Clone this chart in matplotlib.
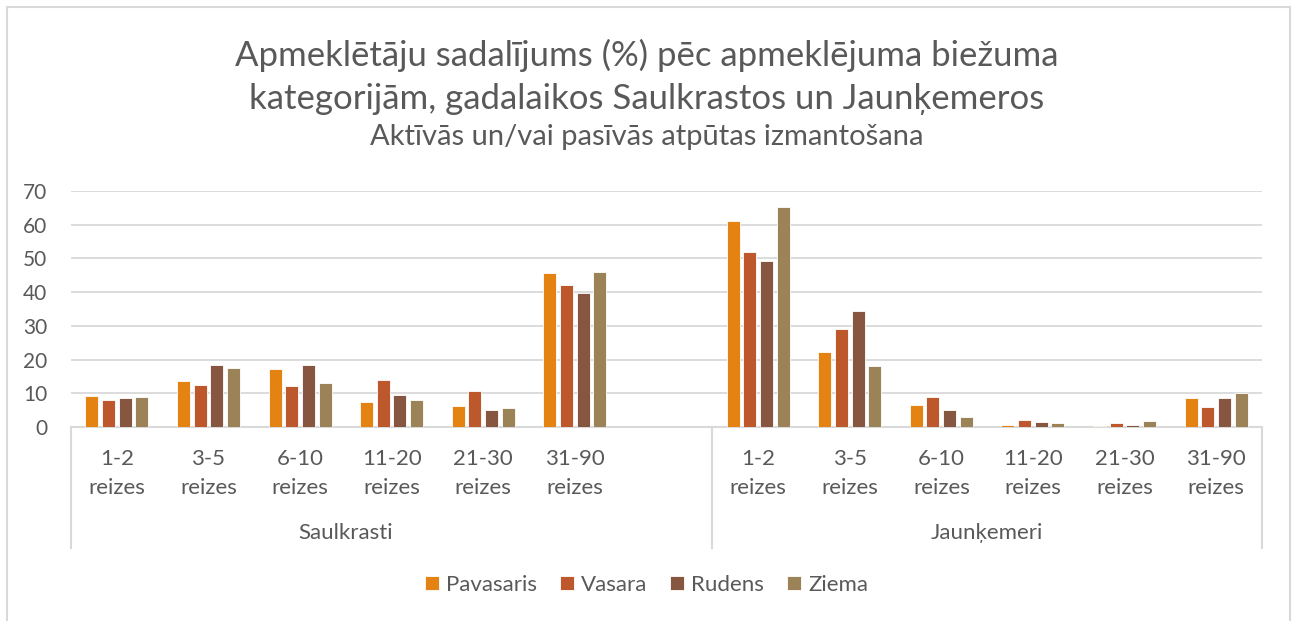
import numpy as np
import matplotlib.pyplot as plt
from matplotlib.patches import Rectangle
import matplotlib.transforms as mtransforms

plt.rcParams['font.family'] = ['Lato', 'DejaVu Sans']

categories = ["1-2\nreizes", "3-5\nreizes", "6-10\nreizes", "11-20\nreizes", "21-30\nreizes", "31-90\nreizes"]
groups = ["Saulkrasti", "Jaunķemeri"]
seasons = ["Pavasaris", "Vasara", "Rudens", "Ziema"]
colors = ["#E48312", "#BD582C", "#865640", "#9B8357"]

# Saulkrasti, per season, per category
saulkrasti = [
    [9.3, 13.6, 17.1, 7.3, 6.1, 45.7],
    [7.9, 12.6, 12.2, 13.9, 10.6, 42.1],
    [8.5, 18.3, 18.3, 9.4, 4.9, 39.8],
    [9.0, 17.4, 13.1, 8.1, 5.7, 46.0],
]
# Jaunkemeri
jaunkemeri = [
    [61.0, 22.2, 6.4, 0.7, 0.4, 8.5],
    [52.0, 29.2, 9.0, 2.0, 1.1, 5.9],
    [49.3, 34.4, 5.0, 1.4, 0.5, 8.7],
    [65.4, 18.1, 3.1, 1.1, 1.7, 10.2],
]

txt = "#595959"
grid = "#D9D9D9"

fig = plt.figure(figsize=(12.93, 6.21), dpi=100)
ax = fig.add_axes([0.0549, 0.3124, 0.9211, 0.38])

# Saulkrasti has one empty slot after its categories
n = len(categories)
xs = np.concatenate([np.arange(n), np.arange(n) + n + 1])
bw = 0.142
step = 0.182
for i, s in enumerate(seasons):
    vals = saulkrasti[i] + jaunkemeri[i]
    ax.bar(xs + (i - 1.5) * step, vals, width=bw, color=colors[i],
           edgecolor="white", linewidth=0.6, label=s, zorder=3)

ax.set_xlim(-0.5, 2 * n + 0.5)
ax.set_ylim(0, 70)
ax.set_yticks(range(0, 71, 10))
ax.yaxis.grid(True, color=grid, linewidth=1.3, zorder=0)
for sp in ax.spines.values():
    sp.set_visible(False)
ax.tick_params(axis="y", length=0, labelsize=15, labelcolor=txt, pad=17)
ax.set_xticks(xs)
ax.set_xticklabels(categories * 2, fontsize=16, color=txt, linespacing=1.55)
ax.tick_params(axis="x", length=0, pad=16)

# category group boxes
trans = mtransforms.blended_transform_factory(ax.transData, ax.transAxes)
ax.plot([-0.5, 2 * n + 0.5], [0, 0], color=grid, lw=1.5, transform=trans, clip_on=False)
for b in [-0.5, n + 0.5, 2 * n + 0.5]:
    ax.plot([b, b], [0, -0.513], color=grid, lw=1.5, transform=trans, clip_on=False)
ax.text(n / 2 - 0.5, -0.449, groups[0], transform=trans, ha="center",
        va="center", fontsize=16, color=txt)
ax.text(n + 1 + (n - 1) / 2, -0.449, groups[1], transform=trans, ha="center",
        va="center", fontsize=16, color=txt)

fig.text(0.5, 1 - 55 / 621, "Apmeklētāju sadalījums (%) pēc apmeklējuma biežuma",
         ha="center", va="center", fontsize=25, color=txt)
fig.text(0.5, 1 - 99 / 621, "kategorijām, gadalaikos Saulkrastos un Jaunķemeros",
         ha="center", va="center", fontsize=25, color=txt)
fig.text(0.5, 1 - 137 / 621, "Aktīvās un/vai pasīvās atpūtas izmantošana",
         ha="center", va="center", fontsize=21, color=txt)

fig.legend(loc="center", bbox_to_anchor=(0.5, 1 - 585 / 621), ncol=4, frameon=False,
           fontsize=16, labelcolor=txt, handlelength=0.63, handleheight=0.63,
           handletextpad=0.3, columnspacing=1.05)

fig.patches.append(Rectangle((7 / 1293, -0.1), (1290 - 7) / 1293, 1 - 7 / 621 + 0.1,
                             transform=fig.transFigure, fill=False,
                             edgecolor=grid, linewidth=1.5))

fig.savefig("out.png", dpi=100)
